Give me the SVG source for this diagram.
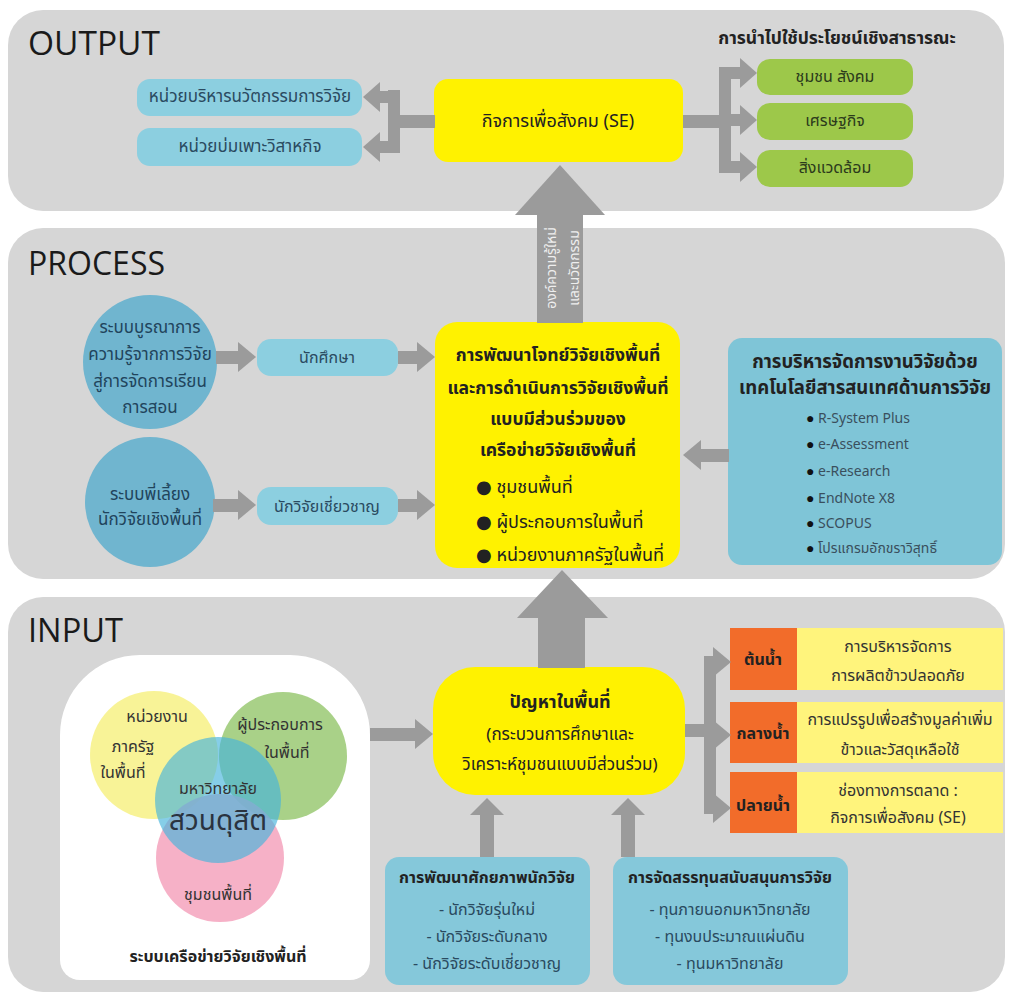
<svg xmlns="http://www.w3.org/2000/svg" width="1009" height="994" viewBox="0 0 1009 994">
<defs>
<style>
.panel{fill:#d6d6d6}
.arr{fill:#9b9b9b}
.t{font-family:'Noto Sans Thai','Noto Sans','DejaVu Sans',sans-serif;dominant-baseline:central;text-anchor:middle}
.b{font-weight:bold}
.h{font-family:'Open Sans','Liberation Sans',sans-serif;font-size:32px;fill:#1a1a1a}
.lb{fill:#8ccfe0}
.dk{fill:#222}
.bt{fill:#2a4a60}
.li{font-family:'Noto Sans','Noto Sans Thai',sans-serif;dominant-baseline:central;font-size:14px;fill:#3a4f5d}
</style>
</defs>
<rect width="1009" height="994" fill="#ffffff"/>

<!-- OUTPUT -->
<g id="output-panel">
<rect class="panel" x="8" y="10" width="996" height="201" rx="35"/>
<text class="h" x="28" y="55" textLength="132" lengthAdjust="spacingAndGlyphs">OUTPUT</text>
<text class="t b dk" x="837" y="38" font-size="17.5">การนำไปใช้ประโยชน์เชิงสาธารณะ</text>
</g>
<g id="node-innovation-unit">
<rect class="lb" x="137" y="79" width="225" height="37" rx="13"/>
<text class="t bt" x="250" y="97" font-size="17">หน่วยบริหารนวัตกรรมการวิจัย</text>
</g>
<g id="node-incubator">
<rect class="lb" x="137" y="128" width="225" height="38" rx="13"/>
<text class="t bt" x="250" y="147" font-size="17">หน่วยบ่มเพาะวิสาหกิจ</text>
</g>
<g id="node-se">
<rect fill="#fff200" x="434" y="79" width="249" height="83" rx="14"/>
<text class="t dk" x="558" y="121" font-size="18">กิจการเพื่อสังคม (SE)</text>
</g>
<g id="node-community">
<rect fill="#9dc84a" x="757" y="59" width="156" height="36" rx="13"/>
<text class="t" fill="#2b3a1c" x="835" y="77" font-size="16">ชุมชน สังคม</text>
</g>
<g id="node-economy">
<rect fill="#9dc84a" x="757" y="103" width="156" height="37" rx="13"/>
<text class="t" fill="#2b3a1c" x="835" y="121" font-size="16">เศรษฐกิจ</text>
</g>
<g id="node-environment">
<rect fill="#9dc84a" x="757" y="150" width="156" height="37" rx="13"/>
<text class="t" fill="#2b3a1c" x="835" y="168" font-size="16">สิ่งแวดล้อม</text>
</g>

<!-- PROCESS -->
<g id="process-panel">
<rect class="panel" x="8" y="228" width="997" height="351" rx="35"/>
<text class="h" x="28" y="275" textLength="137" lengthAdjust="spacingAndGlyphs">PROCESS</text>
</g>
<g id="node-integration">
<circle cx="150" cy="362" r="67" fill="#70b5cf"/>
<text class="t" fill="#21445c" font-size="17"><tspan x="150" y="328">ระบบบูรณาการ</tspan><tspan x="150" y="355">ความรู้จากการวิจัย</tspan><tspan x="150" y="382">สู่การจัดการเรียน</tspan><tspan x="150" y="408">การสอน</tspan></text>
</g>
<g id="node-mentor">
<circle cx="150" cy="502" r="65" fill="#70b5cf"/>
<text class="t" fill="#21445c" font-size="17"><tspan x="150" y="495">ระบบพี่เลี้ยง</tspan><tspan x="150" y="520">นักวิจัยเชิงพื้นที่</tspan></text>
</g>
<g id="node-students">
<rect class="lb" x="257" y="339" width="141" height="37" rx="14"/>
<text class="t bt" x="327" y="358" font-size="16">นักศึกษา</text>
</g>
<g id="node-experts">
<rect class="lb" x="257" y="487" width="141" height="38" rx="14"/>
<text class="t bt" x="327" y="507" font-size="16">นักวิจัยเชี่ยวชาญ</text>
</g>
<g id="node-research-dev">
<rect fill="#fff200" x="435" y="322" width="245" height="246" rx="22"/>
<text class="t b dk" font-size="17.5"><tspan x="558" y="355">การพัฒนาโจทย์วิจัยเชิงพื้นที่</tspan><tspan x="558" y="388">และการดำเนินการวิจัยเชิงพื้นที่</tspan><tspan x="558" y="419">แบบมีส่วนร่วมของ</tspan><tspan x="558" y="450">เครือข่ายวิจัยเชิงพื้นที่</tspan></text>
<text class="t dk" font-size="18" style="text-anchor:start"><tspan x="476" y="487">● ชุมชนพื้นที่</tspan><tspan x="476" y="522">● ผู้ประกอบการในพื้นที่</tspan><tspan x="476" y="555">● หน่วยงานภาครัฐในพื้นที่</tspan></text>
</g>
<g id="node-it-management">
<rect fill="#7fc5d7" x="728" y="338" width="274" height="227" rx="14"/>
<text class="t b dk" font-size="18.5"><tspan x="865" y="362">การบริหารจัดการงานวิจัยด้วย</tspan><tspan x="865" y="388">เทคโนโลยีสารสนเทศด้านการวิจัย</tspan></text>
<text class="li"><tspan x="806" y="417"><tspan fill="#111">●</tspan> R-System Plus</tspan><tspan x="806" y="443"><tspan fill="#111">●</tspan> e-Assessment</tspan><tspan x="806" y="470"><tspan fill="#111">●</tspan> e-Research</tspan><tspan x="806" y="497"><tspan fill="#111">●</tspan> EndNote X8</tspan><tspan x="806" y="522"><tspan fill="#111">●</tspan> SCOPUS</tspan><tspan x="806" y="547"><tspan fill="#111">●</tspan> โปรแกรมอักขราวิสุทธิ์</tspan></text>
</g>

<!-- INPUT -->
<g id="input-panel">
<rect class="panel" x="8" y="597" width="997" height="395" rx="35"/>
<text class="h" x="28" y="642" textLength="95" lengthAdjust="spacingAndGlyphs">INPUT</text>
</g>
<g id="node-network">
<path fill="#ffffff" d="M60 960 V735 A80 80 0 0 1 140 655 H290 A80 80 0 0 1 370 735 V960 A20 20 0 0 1 350 980 H80 A20 20 0 0 1 60 960 Z"/>
<circle cx="154" cy="755" r="64" fill="#f7f28c" fill-opacity="0.9"/>
<circle cx="283" cy="756" r="64" fill="#94c66a" fill-opacity="0.8"/>
<circle cx="220" cy="858" r="64" fill="#f5a3bd" fill-opacity="0.85"/>
<circle cx="218" cy="800" r="63" fill="#45b3dc" fill-opacity="0.65"/>
<text class="t" fill="#333" font-size="16"><tspan x="157" y="717">หน่วยงาน</tspan><tspan x="133" y="747">ภาครัฐ</tspan><tspan x="123" y="773">ในพื้นที่</tspan></text>
<text class="t" fill="#333" font-size="16"><tspan x="280" y="725">ผู้ประกอบการ</tspan><tspan x="287" y="753">ในพื้นที่</tspan></text>
<text class="t" fill="#333" font-size="16" x="218" y="789">มหาวิทยาลัย</text>
<text class="t" fill="#2a3340" font-size="28" x="218" y="821">สวนดุสิต</text>
<text class="t" fill="#333" font-size="16" x="218" y="895">ชุมชนพื้นที่</text>
<text class="t b" fill="#222" font-size="16" x="218" y="957">ระบบเครือข่ายวิจัยเชิงพื้นที่</text>
</g>
<g id="node-problem">
<rect fill="#fff200" x="433" y="667" width="252" height="128" rx="42"/>
<text class="t b dk" font-size="18" x="560" y="702">ปัญหาในพื้นที่</text>
<text class="t dk" font-size="17"><tspan x="560" y="735">(กระบวนการศึกษาและ</tspan><tspan x="560" y="765">วิเคราะห์ชุมชนแบบมีส่วนร่วม)</tspan></text>
</g>
<g id="node-researcher-dev">
<rect fill="#85c8da" x="385" y="857" width="205" height="128" rx="14"/>
<text class="t b dk" font-size="16" x="487" y="878">การพัฒนาศักยภาพนักวิจัย</text>
<text class="t bt" font-size="16"><tspan x="487" y="910">- นักวิจัยรุ่นใหม่</tspan><tspan x="487" y="937">- นักวิจัยระดับกลาง</tspan><tspan x="487" y="964">- นักวิจัยระดับเชี่ยวชาญ</tspan></text>
</g>
<g id="node-funding">
<rect fill="#85c8da" x="613" y="857" width="235" height="128" rx="14"/>
<text class="t b dk" font-size="16" x="730" y="878">การจัดสรรทุนสนับสนุนการวิจัย</text>
<text class="t bt" font-size="16"><tspan x="730" y="910">- ทุนภายนอกมหาวิทยาลัย</tspan><tspan x="730" y="937">- ทุนงบประมาณแผ่นดิน</tspan><tspan x="730" y="964">- ทุนมหาวิทยาลัย</tspan></text>
</g>
<g id="node-upstream">
<rect fill="#f26c2a" x="730" y="628" width="67" height="62"/>
<rect fill="#fff47c" x="797" y="628" width="206" height="62"/>
<text class="t b dk" font-size="16" x="763" y="660">ต้นน้ำ</text>
<text class="t" fill="#333" font-size="16"><tspan x="898" y="647">การบริหารจัดการ</tspan><tspan x="898" y="676">การผลิตข้าวปลอดภัย</tspan></text>
</g>
<g id="node-midstream">
<rect fill="#f26c2a" x="730" y="702" width="67" height="61"/>
<rect fill="#fff47c" x="797" y="702" width="206" height="61"/>
<text class="t b dk" font-size="16" x="763" y="734">กลางน้ำ</text>
<text class="t" fill="#333" font-size="16"><tspan x="900" y="720">การแปรรูปเพื่อสร้างมูลค่าเพิ่ม</tspan><tspan x="900" y="750">ข้าวและวัสดุเหลือใช้</tspan></text>
</g>
<g id="node-downstream">
<rect fill="#f26c2a" x="730" y="772" width="67" height="61"/>
<rect fill="#fff47c" x="797" y="772" width="206" height="61"/>
<text class="t b dk" font-size="16" x="763" y="806">ปลายน้ำ</text>
<text class="t" fill="#333" font-size="16"><tspan x="898" y="791">ช่องทางการตลาด :</tspan><tspan x="898" y="818">กิจการเพื่อสังคม (SE)</tspan></text>
</g>

<!-- CONNECTORS -->
<g id="connectors" class="arr">
<rect x="392" y="115" width="43" height="13"/>
<rect x="388" y="90" width="12" height="63"/>
<rect x="378" y="91" width="22" height="12"/>
<polygon points="363,97 380,82 380,112"/>
<rect x="378" y="141" width="22" height="12"/>
<polygon points="363,147 380,132 380,162"/>
<rect x="683" y="115" width="42" height="13"/>
<rect x="719" y="67" width="12" height="106"/>
<rect x="719" y="67" width="23" height="12"/>
<polygon points="757,73 740,58 740,88"/>
<rect x="719" y="114" width="23" height="12"/>
<polygon points="757,120 740,105 740,135"/>
<rect x="719" y="161" width="23" height="12"/>
<polygon points="757,167 740,152 740,182"/>
<rect x="537" y="213" width="46" height="110"/>
<polygon points="560,165 605,215 515,215"/>
<rect x="216" y="351" width="24" height="13"/>
<polygon points="256,357 238,342 238,372"/>
<rect x="398" y="351" width="21" height="13"/>
<polygon points="435,357 417,342 417,372"/>
<rect x="213" y="499" width="27" height="13"/>
<polygon points="256,505 238,490 238,520"/>
<rect x="398" y="499" width="21" height="13"/>
<polygon points="435,505 417,490 417,520"/>
<rect x="698" y="449" width="31" height="13"/>
<polygon points="683,455 701,440 701,470"/>
<rect x="538" y="616" width="47" height="52"/>
<polygon points="562,570 608,618 517,618"/>
<rect x="370" y="728" width="47" height="13"/>
<polygon points="433,734 415,719 415,749"/>
<rect x="480" y="813" width="14" height="44"/>
<polygon points="487,798 504,815 470,815"/>
<rect x="621" y="813" width="14" height="44"/>
<polygon points="628,798 645,815 611,815"/>
<rect x="685" y="724" width="30" height="13"/>
<rect x="704" y="656" width="12" height="158"/>
<polygon points="731,662 713,647 713,677"/>
<polygon points="731,735 713,720 713,750"/>
<polygon points="731,808 713,793 713,823"/>
<text font-family="'Noto Sans Thai','Noto Sans',sans-serif" font-size="14" fill="#eeeeee" text-anchor="middle" transform="translate(556,268) rotate(-90)">องค์ความรู้ใหม่</text>
<text font-family="'Noto Sans Thai','Noto Sans',sans-serif" font-size="14" fill="#eeeeee" text-anchor="middle" transform="translate(579,268) rotate(-90)">และนวัตกรรม</text>
</g>
</svg>
